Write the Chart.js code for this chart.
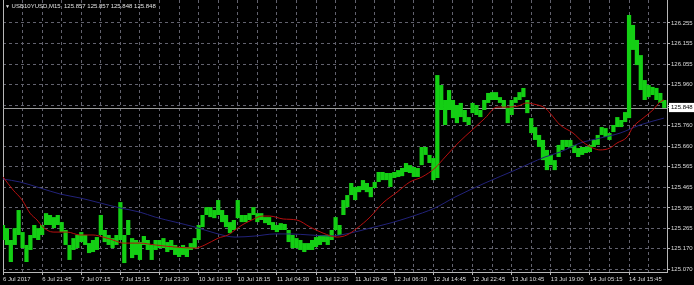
<!DOCTYPE html>
<html>
<head>
<meta charset="utf-8">
<script src="https://cdn.jsdelivr.net/npm/chart.js@4/dist/chart.umd.min.js"></script>
<style>
  html, body { margin: 0; padding: 0; background: #000; }
  #wrap { position: relative; width: 694px; height: 285px; }
  #title { position: absolute; left: 5px; top: 0px; font: 6px 'Liberation Sans', Arial, sans-serif; line-height: 12px; color: #e0e0e0; white-space: pre; }
  #title .tri { font-size: 5px; color: #e0e0e0; }
</style>
</head>
<body>
<div id="wrap">
  <canvas id="c" width="694" height="285"></canvas>
  <div id="title"><span class="tri">▼</span> USB10YUSD,M15  125.857 125.857 125.848 125.848</div>
</div>
<script>
// Time-axis labels (one every 10 index steps)
const tickLabels = ["6 Jul 2017","6 Jul 21:45","7 Jul 07:15","7 Jul 15:15","7 Jul 23:30","10 Jul 10:15","10 Jul 18:15","11 Jul 04:30","11 Jul 12:30","11 Jul 20:45","12 Jul 06:30","12 Jul 14:45","12 Jul 22:45","13 Jul 10:45","13 Jul 19:00","14 Jul 05:15","14 Jul 15:45"];

// Price-axis labels
const priceTicks = [125.070,125.170,125.265,125.365,125.465,125.565,125.660,125.760,125.860,125.960,126.055,126.155,126.255];
const currentPrice = 125.848;

// Price bars (high / low per index)
const barHigh = [
125.283,125.268,125.211,125.268,125.355,125.249,125.187,125.235,125.283,125.268,
125.283,125.340,125.331,125.321,125.331,125.297,125.259,125.187,125.220,125.235,
125.249,125.235,125.196,125.211,125.225,125.331,125.259,125.235,125.220,125.235,
125.393,125.235,125.307,125.220,125.211,125.201,125.230,125.211,125.187,125.211,
125.211,125.220,125.201,125.211,125.187,125.177,125.187,125.177,125.196,125.220,
125.283,125.331,125.369,125.369,125.355,125.403,125.355,125.331,125.297,125.307,
125.403,125.331,125.331,125.340,125.369,125.340,125.340,125.321,125.321,125.297,
125.283,125.292,125.288,125.259,125.235,125.220,125.211,125.196,125.196,125.211,
125.225,125.235,125.235,125.235,125.259,125.321,125.283,125.403,125.427,125.485,
125.466,125.470,125.499,125.485,125.466,125.490,125.538,125.538,125.533,125.533,
125.538,125.547,125.557,125.581,125.571,125.562,125.557,125.658,125.658,125.620,
125.605,126.004,125.956,125.884,125.932,125.884,125.860,125.870,125.836,125.802,
125.870,125.860,125.836,125.884,125.918,125.922,125.922,125.898,125.884,125.846,
125.884,125.898,125.922,125.942,125.884,125.797,125.754,125.716,125.692,125.644,
125.620,125.595,125.668,125.692,125.692,125.692,125.668,125.653,125.658,125.658,
125.668,125.692,125.716,125.754,125.749,125.725,125.764,125.802,125.788,125.826,
126.293,126.245,126.173,126.100,125.980,125.956,125.947,125.942,125.918,125.884];
const barLow = [
125.211,125.187,125.105,125.187,125.235,125.172,125.105,125.163,125.220,125.211,
125.235,125.283,125.283,125.268,125.283,125.249,125.187,125.115,125.163,125.172,
125.201,125.187,125.148,125.153,125.163,125.235,125.201,125.187,125.172,125.187,
125.211,125.100,125.235,125.124,125.139,125.115,125.187,125.163,125.115,125.163,
125.172,125.172,125.153,125.163,125.139,125.129,125.139,125.129,125.163,125.172,
125.211,125.273,125.331,125.321,125.316,125.331,125.297,125.273,125.244,125.259,
125.316,125.297,125.297,125.307,125.331,125.297,125.307,125.292,125.283,125.259,
125.249,125.259,125.259,125.201,125.172,125.172,125.163,125.153,125.163,125.163,
125.177,125.187,125.201,125.187,125.211,125.259,125.235,125.331,125.369,125.427,
125.403,125.441,125.451,125.441,125.417,125.461,125.490,125.499,125.499,125.466,
125.509,125.514,125.518,125.538,125.533,125.514,125.514,125.571,125.620,125.581,
125.499,125.509,125.836,125.764,125.836,125.797,125.773,125.802,125.778,125.764,
125.821,125.812,125.802,125.836,125.870,125.884,125.884,125.870,125.846,125.773,
125.812,125.870,125.884,125.898,125.821,125.725,125.692,125.658,125.595,125.547,
125.571,125.547,125.610,125.644,125.658,125.653,125.629,125.610,125.620,125.629,
125.634,125.658,125.668,125.716,125.706,125.692,125.730,125.754,125.754,125.778,
125.797,126.125,126.052,125.932,125.884,125.898,125.908,125.884,125.870,125.846];

// Fast moving average (red)
const fastIdx = [0,2.6,4.9,6.9,8.7,10.2,12.8,16.4,19.7,23.0,25.6,28.1,30.7,35.0,38.9,44.0,49.1,51.6,55.0,57.5,59.3,61.1,63.6,66.2,68.2,71.6,75.1,78.5,81.8,85.4,87.9,90.5,93.8,97.1,100.7,104.0,107.1,110.4,113.0,116.3,119.9,123.2,126.3,128.3,131.6,133.9,135.5,138.5,139.8,142.4,145.7,148.2,150.8,152.6,155.1,156.9,159.5,161.0,163.6,166.1,167.9,168.9];
const fastVal = [125.514,125.451,125.403,125.340,125.307,125.273,125.249,125.249,125.235,125.235,125.225,125.211,125.196,125.196,125.187,125.177,125.172,125.187,125.220,125.235,125.259,125.283,125.307,125.326,125.326,125.312,125.307,125.273,125.244,125.225,125.235,125.268,125.321,125.389,125.441,125.490,125.514,125.557,125.610,125.677,125.740,125.797,125.850,125.850,125.855,125.870,125.865,125.846,125.821,125.764,125.725,125.682,125.653,125.644,125.653,125.677,125.706,125.754,125.797,125.836,125.874,125.884];

// Slow moving average (blue)
const slowIdx = [0,4.3,9.5,14.6,19.7,24.8,29.9,35.0,38.9,44.0,49.1,54.2,59.3,64.4,69.5,73.4,78.5,83.6,88.7,93.8,98.9,104.0,110.4,115.5,123.2,130.9,138.5,142.4,147.5,152.6,157.7,162.8,168.9];
const slowVal = [125.504,125.490,125.461,125.432,125.413,125.389,125.365,125.345,125.321,125.297,125.273,125.244,125.225,125.230,125.240,125.240,125.235,125.230,125.244,125.268,125.292,125.321,125.365,125.417,125.485,125.547,125.610,125.634,125.677,125.701,125.725,125.764,125.797];

const gridColor = '#62626e';
const axisColor = '#b8b8b8';
const textColor = '#dcdcdc';
const font = { family: "'Liberation Sans', Arial, sans-serif", size: 6 };

const currentPriceLine = {
  id: 'currentPriceLine',
  beforeDatasetsDraw(chart) {
    const { ctx, chartArea, scales } = chart;
    const y = Math.round(scales.y.getPixelForValue(currentPrice)) + 0.5;
    ctx.save();
    ctx.strokeStyle = '#9c9c9c';
    ctx.lineWidth = 1;
    ctx.beginPath();
    ctx.moveTo(chartArea.left, y);
    ctx.lineTo(chartArea.right, y);
    ctx.stroke();
    ctx.restore();
  }
};

new Chart(document.getElementById('c'), {
  type: 'bar',
  data: {
    datasets: [
      {
        type: 'line', label: 'MA fast', order: 1,
        data: fastIdx.map((x, i) => ({ x, y: fastVal[i] })),
        borderColor: '#b80f0f', borderWidth: 1, pointRadius: 0,
        cubicInterpolationMode: 'monotone'
      },
      {
        type: 'line', label: 'MA slow', order: 2,
        data: slowIdx.map((x, i) => ({ x, y: slowVal[i] })),
        borderColor: '#22227a', borderWidth: 1, pointRadius: 0,
        cubicInterpolationMode: 'monotone'
      },
      {
        type: 'bar', label: 'USB10YUSD', order: 3,
        data: barHigh.map((h, i) => ({ x: i, y: [barLow[i], h] })),
        backgroundColor: '#14cf14',
        borderWidth: 0,
        barPercentage: 1.08, categoryPercentage: 1
      }
    ]
  },
  options: {
    responsive: false,
    animation: false,
    devicePixelRatio: 1,
    layout: { padding: { left: 3, top: 0, right: 0, bottom: 0 } },
    plugins: { legend: { display: false }, tooltip: { enabled: false } },
    scales: {
      x: {
        type: 'linear', min: 0, max: 169.7, offset: false,
        afterBuildTicks: s => {
          const t = [];
          tickLabels.forEach((_, k) => {
            t.push({ value: k * 10 });
            if (k * 10 + 5 < 169.7) t.push({ value: k * 10 + 5 });
          });
          s.ticks = t;
        },
        afterFit: s => { s.height = 13; s.paddingLeft = 0; s.paddingRight = 0; },
        ticks: {
          autoSkip: false, maxRotation: 0, minRotation: 0, align: 'start', padding: 1,
          font, color: textColor,
          callback: v => (v % 10 === 0 ? tickLabels[v / 10] : '')
        },
        grid: {
          color: gridColor, offset: false, tickLength: 3,
          tickColor: c => (c.tick && c.tick.value % 10 === 0 ? axisColor : 'transparent')
        },
        border: { color: axisColor, dash: [3, 3] }
      },
      y: {
        type: 'linear', position: 'right', min: 125.057, max: 126.365,
        afterBuildTicks: s => { s.ticks = priceTicks.concat([currentPrice]).map(v => ({ value: v })); },
        afterFit: s => { s.width = 27; s.paddingTop = 0; s.paddingBottom = 0; },
        ticks: {
          autoSkip: false, padding: 1, font,
          color: c => (c.tick && c.tick.value === currentPrice ? '#000' : textColor),
          callback: v => v.toFixed(3),
          showLabelBackdrop: c => !!(c.tick && c.tick.value === currentPrice),
          backdropColor: '#ffffff',
          backdropPadding: { top: 1, bottom: 1, left: 2, right: 3 }
        },
        grid: {
          color: c => (c.tick && c.tick.value === currentPrice ? 'transparent' : gridColor),
          tickLength: 3, tickColor: axisColor
        },
        border: { color: axisColor, dash: [3, 3] }
      },
      yl: {
        type: 'linear', position: 'left', min: 125.057, max: 126.365,
        afterFit: s => { s.width = 0; s.paddingTop = 0; s.paddingBottom = 0; },
        ticks: { display: false },
        grid: { display: false, drawTicks: false },
        border: { display: true, color: axisColor }
      }
    }
  },
  plugins: [currentPriceLine]
});
</script>
</body>
</html>
